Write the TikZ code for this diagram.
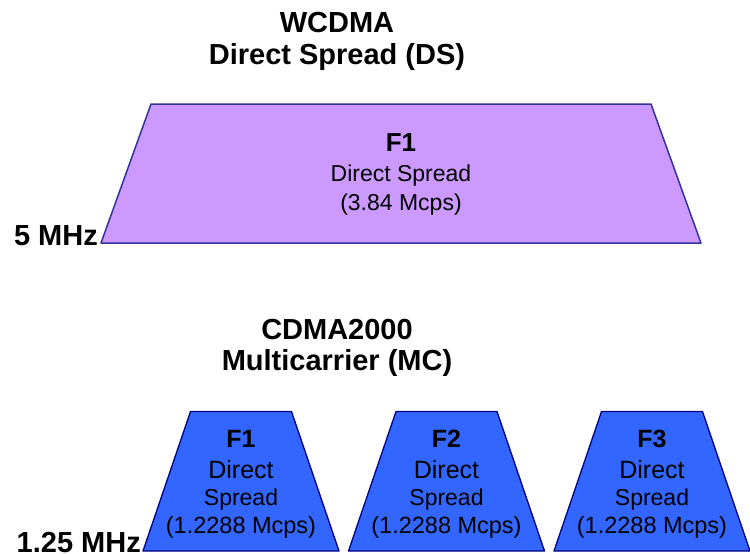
\documentclass[tikz,border=0pt]{standalone}
\usepackage{fontspec}
\setmainfont{Liberation Sans}
\usetikzlibrary{positioning}

\definecolor{dsfill}{HTML}{CC99FF}
\definecolor{dsedge}{HTML}{333399}
\definecolor{mcfill}{HTML}{3366FF}
\definecolor{mcedge}{HTML}{000080}

\begin{document}
\begin{tikzpicture}[x=1pt,y=-1pt,inner sep=0pt,line join=round]
\tikzstyle{heading}=[font=\fontsize{29}{34}\selectfont\bfseries,anchor=base]
\tikzstyle{carrier}=[font=\fontsize{26}{30}\selectfont\bfseries,anchor=base]
\tikzstyle{body}=[font=\fontsize{23}{27}\selectfont,anchor=base]
\tikzstyle{bandwidth}=[font=\fontsize{29}{34}\selectfont\bfseries,anchor=base east]
\tikzstyle{dsband}=[fill=dsfill,draw=dsedge,line width=1.5pt]
\tikzstyle{mcband}=[fill=mcfill,draw=mcedge,line width=1.3pt]
\useasboundingbox (0,0) rectangle (750,554);

% WCDMA: one wide carrier
\node[heading] (wcdma) at (337,32) {WCDMA};
\node[heading] (dstitle) at (337,64) {Direct Spread (DS)};
\filldraw[dsband] (101,243) -- (151,104) -- (651,104) -- (701,243) -- cycle;
\node[carrier] (dsF) at (401,151) {F1};
\node[body] (dsname) at (401,181) {Direct Spread};
\node[body] (dsrate) at (401,210) {(3.84 Mcps)};
\node[bandwidth] (dsbw) at (98,245) {5 MHz};

% CDMA2000: three narrow carriers
\node[heading] (cdma) at (337,339) {CDMA2000};
\node[heading] (mctitle) at (337,370) {Multicarrier (MC)};
\foreach \cx/\f in {241/F1, 446.5/F2, 652/F3} {
  \filldraw[mcband] (\cx-98,551) -- (\cx-50.5,411.5) -- (\cx+50.5,411.5) -- (\cx+98,551) -- cycle;
  \node[carrier,font=\fontsize{25}{30}\selectfont\bfseries] (mc\f) at (\cx,447) {\f};
  \node[body,font=\fontsize{25}{30}\selectfont] (mcname\f) at (\cx,478) {Direct};
  \node[body] (mcspread\f) at (\cx,505) {Spread};
  \node[body,font=\fontsize{23.5}{27}\selectfont] (mcrate\f) at (\cx,533) {(1.2288 Mcps)};
}
\node[bandwidth] (mcbw) at (141,552) {1.25 MHz};
\end{tikzpicture}
\end{document}
